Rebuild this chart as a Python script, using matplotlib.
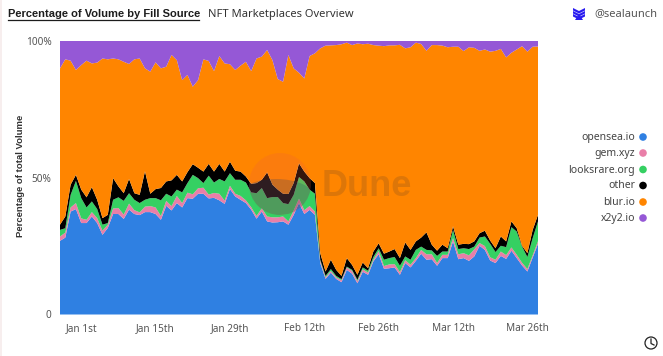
import numpy as np
import pandas as pd
import matplotlib
matplotlib.use("Agg")
import matplotlib.pyplot as plt
from matplotlib.patches import Circle, Ellipse, Rectangle, Polygon

plt.rcParams['font.family'] = ['Noto Sans', 'DejaVu Sans']

W, H = 663, 356

# ===== data =====
dates = pd.date_range("2022-12-28", "2023-03-28")
tick_dates = pd.to_datetime(["2023-01-01", "2023-01-15", "2023-01-29", "2023-02-12",
                             "2023-02-26", "2023-03-12", "2023-03-26"])
tick_labels = ["Jan 1st", "Jan 15th", "Jan 29th", "Feb 12th", "Feb 26th", "Mar 12th", "Mar 26th"]
names = ["opensea.io", "gem.xyz", "looksrare.org", "other", "blur.io", "x2y2.io"]
colors = ["#2f80e2", "#e97fa8", "#35d062", "#000000", "#ff8500", "#9558d6"]

opensea = [26.9, 28.1, 37.6, 38.5, 33.4, 33.4, 35.8, 33.4, 29.1, 31.6, 36.7, 36.7, 34.9, 38.3, 36.7, 36.3,
           37.4, 37.4, 36.7, 34.6, 39.7, 38.0, 40.7, 39.1, 42.5, 42.3, 44.1, 44.1, 42.4, 42.6, 41.7, 40.4,
           45.8, 43.1, 41.9, 40.7, 38.3, 35.0, 37.6, 34.0, 33.6, 33.7, 34.0, 32.8, 36.4, 40.7, 36.7, 38.2,
           36.4, 18.8, 13.0, 15.3, 13.0, 11.8, 16.3, 14.9, 11.4, 15.6, 14.5, 19.4, 22.0, 16.7, 16.9, 17.2,
           14.5, 18.8, 17.2, 19.6, 22.2, 20.0, 20.2, 17.8, 20.6, 20.6, 26.7, 20.2, 20.6, 19.6, 21.2, 25.1,
           23.6, 19.7, 18.8, 21.4, 20.3, 23.3, 20.6, 17.9, 15.7, 20.8, 25.8]
gem = [1.6, 1.8, 1.5, 2.2, 1.7, 1.2, 1.6, 1.8, 1.5, 1.2, 2.0, 2.2, 1.6, 2.2, 1.4, 1.0,
       2.0, 2.2, 2.4, 1.4, 1.8, 1.6, 2.6, 1.6, 2.0, 1.6, 2.0, 2.2, 1.4, 1.8, 2.4, 1.2,
       1.2, 1.0, 1.4, 1.0, 0.9, 1.0, 1.2, 1.8, 1.9, 1.8, 1.8, 1.2, 1.6, 1.6, 1.4, 1.4,
       1.2, 0.8, 0.6, 0.6, 0.6, 0.7, 0.9, 1.0, 0.8, 0.9, 0.8, 0.6, 1.2, 1.0, 1.4, 1.2,
       1.0, 1.0, 1.0, 1.0, 1.4, 2.0, 1.8, 1.0, 1.2, 1.2, 1.2, 1.8, 1.8, 2.0, 2.6, 1.0,
       1.4, 1.2, 1.2, 1.6, 1.4, 1.2, 1.2, 1.0, 0.9, 0.8, 1.0]
# upper edges of the stack
looksrare_top = [30.9, 31.5, 43.7, 48.8, 42.5, 39.1, 41.3, 38.5, 32.8, 33.4, 41.9, 42.8, 41.5, 44.3, 41.9, 40.7,
                 41.9, 42.5, 42.5, 41.7, 44.1, 43.1, 45.6, 44.6, 48.0, 51.0, 49.8, 48.0, 50.7, 48.2, 49.5, 48.6,
                 51.6, 49.2, 49.2, 48.2, 44.6, 44.3, 46.2, 42.5, 42.9, 42.9, 40.7, 40.3, 43.7, 50.2, 48.6, 45.6,
                 44.1, 20.0, 14.1, 16.6, 14.1, 12.9, 17.5, 16.3, 12.7, 17.2, 16.0, 21.0, 24.2, 20.0, 20.6, 21.0,
                 17.8, 21.2, 20.0, 23.6, 24.8, 23.6, 23.4, 21.4, 23.0, 23.0, 30.9, 23.9, 24.2, 23.9, 24.8, 28.1,
                 28.5, 25.8, 22.8, 25.1, 24.6, 31.9, 30.3, 24.8, 21.0, 27.9, 34.0]
other_top = [32.8, 35.8, 47.4, 51.0, 45.6, 42.8, 46.5, 41.9, 35.2, 36.4, 49.8, 46.8, 44.3, 49.5, 44.3, 43.7,
             52.3, 44.1, 45.8, 46.2, 48.6, 49.0, 51.0, 48.6, 52.0, 54.9, 53.6, 52.2, 55.0, 52.2, 55.0, 52.2,
             55.8, 52.5, 52.2, 50.4, 47.7, 48.0, 49.2, 51.9, 47.4, 45.6, 44.1, 44.0, 48.0, 55.2, 52.2, 49.8,
             48.0, 22.4, 15.7, 20.0, 16.3, 14.1, 20.6, 18.1, 14.5, 19.0, 16.9, 23.0, 26.0, 22.2, 23.0, 23.9,
             20.6, 26.3, 23.6, 26.7, 28.1, 30.0, 25.5, 23.3, 25.5, 24.2, 32.2, 25.5, 25.8, 25.7, 26.7, 29.7,
             30.6, 27.0, 24.2, 28.5, 26.7, 34.0, 31.5, 25.1, 22.4, 30.9, 36.4]
blur_top = [89.9, 93.2, 92.7, 89.3, 91.1, 92.7, 91.7, 92.0, 93.5, 93.2, 93.5, 93.2, 92.3, 91.5, 93.2, 93.5,
            89.9, 88.7, 92.1, 89.9, 90.5, 94.8, 92.9, 85.6, 87.5, 83.2, 85.6, 93.2, 92.6, 88.9, 94.4, 91.7,
            91.4, 89.3, 90.9, 92.3, 88.9, 93.5, 94.2, 96.6, 92.9, 86.0, 85.0, 94.8, 89.9, 88.3, 86.2, 94.4,
            95.4, 97.2, 98.2, 98.3, 98.4, 98.7, 99.3, 98.4, 99.0, 98.7, 98.9, 98.4, 98.2, 98.0, 98.3, 98.3,
            98.5, 97.2, 97.6, 99.3, 98.8, 96.3, 98.4, 98.4, 98.2, 97.6, 97.8, 97.8, 96.2, 97.6, 97.4, 96.3,
            96.8, 96.0, 96.3, 97.0, 93.9, 95.6, 96.8, 98.0, 96.0, 97.8, 97.9]

# ===== shares from the edges =====
base = np.array(opensea) + np.array(gem)
looksrare = np.array(looksrare_top) - base
other = np.array(other_top) - np.array(looksrare_top)
blur = np.array(blur_top) - np.array(other_top)
x2y2 = 100 - np.array(blur_top)

# ===== figure =====
fig = plt.figure(figsize=(W / 100, H / 100), dpi=100, facecolor="white")
ax = fig.add_axes([60 / W, 1 - 314.5 / H, 478 / W, 273.8 / H])
ax.stackplot(dates, opensea, gem, looksrare, other, blur, x2y2, colors=colors, linewidth=0)
ax.set_xlim(dates[0], dates[-1])
ax.set_ylim(0, 100)
ax.set_xticks(tick_dates)
ax.set_xticklabels(tick_labels)
ax.set_yticks([0, 50, 100])
ax.set_yticklabels(["0", "50%", "100%"])
ax.tick_params(length=0, labelsize=7.2, colors="#555555")
ax.tick_params(axis="x", pad=6)
ax.tick_params(axis="y", pad=6)
for s in ax.spines.values():
    s.set_visible(False)

# overlay in pixel coordinates for the page furniture
ov = fig.add_axes([0, 0, 1, 1], facecolor="none")
ov.set_xlim(0, W)
ov.set_ylim(H, 0)
ov.axis("off")

# left strip of the screenshot
ov.add_patch(Rectangle((0, 0), 2, H, color="#f7eeee", lw=0))

# watermark
c = Circle((280, 184), 31, color="#f0603c", alpha=0.22, lw=0)
ov.add_patch(c)
cres = Ellipse((276, 197), 76, 36, color="#1a3a6a", alpha=0.22, lw=0)
ov.add_patch(cres)
cres.set_clip_path(c)
ov.text(322, 187, "Dune", fontsize=26, fontweight="bold", family="Liberation Sans",
        color="#7a4a20", alpha=0.25, ha="left", va="center")

# titles
ov.text(7.5, 14, "Percentage of Volume by Fill Source", fontsize=8.0, fontweight="bold",
        family="Liberation Sans", color="#1c1c1c", va="center", ha="left")
ov.plot([7.5, 199], [20, 20], color="#1c1c1c", lw=0.9)
ov.text(208, 14, "NFT Marketplaces Overview", fontsize=8.0, color="#333333", va="center", ha="left")
ov.text(21, 176, "Percentage of total Volume", fontsize=6.8, fontweight="bold",
        family="Liberation Sans", color="#333333", rotation=90, va="center", ha="center")

# handle and its logo
ov.text(594, 14, "@sealaunch", fontsize=8.0, color="#555555", va="center", ha="left")
for y0 in [8, 11, 14]:
    ov.add_patch(Polygon([(573, y0), (579, y0 + 3), (585, y0), (585, y0 + 2.5), (579, y0 + 5.5), (573, y0 + 2.5)],
                         color="#2a1cf0", lw=0))
ov.add_patch(Polygon([(575, 20), (579, 14), (583, 20)], color="#2a1cf0", lw=0))

# legend
legend_y = [137, 153, 169.5, 185.5, 202, 218]
for name, col, y in zip(names, colors, legend_y):
    ov.text(635, y + 0.5, name, fontsize=7.5, color="#444444", ha="right", va="center")
    ov.add_patch(Circle((643, y), 3.8, color=col, lw=0))

# clock
ov.add_patch(Circle((651, 343), 6, fill=False, ec="#222222", lw=0.9))
ov.plot([651, 651, 654], [339, 343.5, 345], color="#222222", lw=0.9)

fig.savefig("out.png", dpi=100)
